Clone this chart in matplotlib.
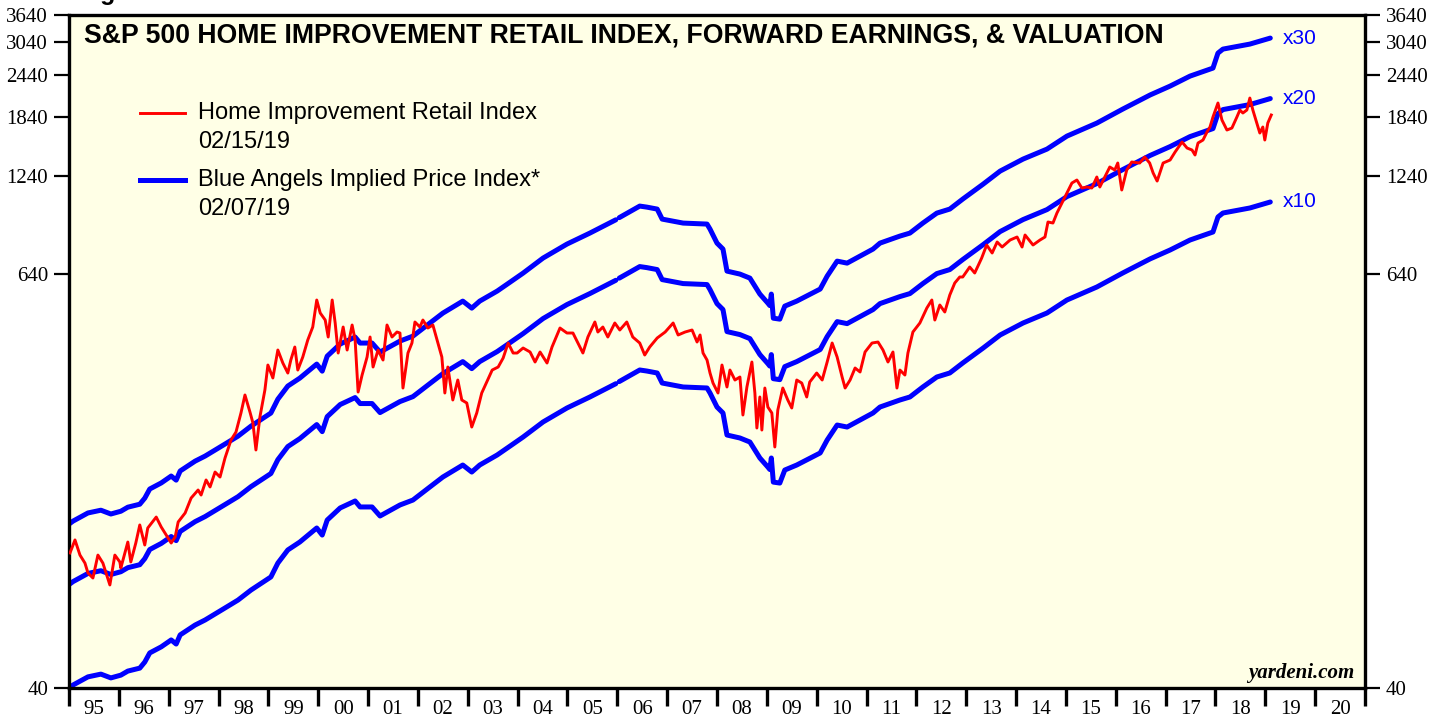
import matplotlib
matplotlib.use('Agg')
import matplotlib.pyplot as plt
import numpy as np
from matplotlib.ticker import FixedLocator, FixedFormatter, NullLocator

# Home Improvement Retail Index (red line)
hi_years = [1995.02, 1995.12, 1995.22, 1995.32, 1995.38, 1995.48, 1995.58, 1995.68, 1995.82, 1995.92,
            1996.02, 1996.04, 1996.18, 1996.24, 1996.34, 1996.42, 1996.52, 1996.58, 1996.75, 1996.85,
            1996.95, 1997.05, 1997.13, 1997.19, 1997.33, 1997.45, 1997.59, 1997.65, 1997.75, 1997.83,
            1997.93, 1998.03, 1998.13, 1998.25, 1998.35, 1998.45, 1998.53, 1998.63, 1998.69, 1998.75,
            1998.83, 1998.93, 1998.99, 1999.09, 1999.19, 1999.29, 1999.39, 1999.45, 1999.53, 1999.59,
            1999.69, 1999.79, 1999.89, 1999.97, 2000.04, 2000.14, 2000.20, 2000.28, 2000.34, 2000.40,
            2000.50, 2000.58, 2000.68, 2000.74, 2000.80, 2000.88, 2000.98, 2001.04, 2001.10, 2001.20,
            2001.30, 2001.38, 2001.48, 2001.58, 2001.64, 2001.70, 2001.80, 2001.88, 2001.94, 2002.04,
            2002.10, 2002.20, 2002.30, 2002.40, 2002.48, 2002.54, 2002.60, 2002.70, 2002.80, 2002.88,
            2002.98, 2003.08, 2003.18, 2003.28, 2003.38, 2003.49, 2003.61, 2003.71, 2003.81, 2003.91,
            2003.99, 2004.11, 2004.25, 2004.35, 2004.45, 2004.59, 2004.69, 2004.85, 2004.99, 2005.11,
            2005.21, 2005.31, 2005.41, 2005.55, 2005.61, 2005.71, 2005.81, 2005.95, 2006.05, 2006.19,
            2006.31, 2006.45, 2006.55, 2006.65, 2006.80, 2006.96, 2007.12, 2007.22, 2007.36, 2007.50,
            2007.60, 2007.66, 2007.72, 2007.80, 2007.86, 2007.92, 2008.02, 2008.10, 2008.20, 2008.26,
            2008.36, 2008.46, 2008.52, 2008.60, 2008.70, 2008.76, 2008.80, 2008.86, 2008.90, 2008.96,
            2009.02, 2009.10, 2009.16, 2009.22, 2009.32, 2009.42, 2009.50, 2009.60, 2009.70, 2009.80,
            2009.86, 2010.00, 2010.11, 2010.21, 2010.31, 2010.41, 2010.51, 2010.57, 2010.67, 2010.77,
            2010.87, 2010.97, 2011.11, 2011.23, 2011.33, 2011.43, 2011.53, 2011.61, 2011.67, 2011.77,
            2011.83, 2011.93, 2012.07, 2012.21, 2012.31, 2012.37, 2012.47, 2012.57, 2012.67, 2012.77,
            2012.87, 2012.93, 2013.07, 2013.17, 2013.31, 2013.41, 2013.52, 2013.62, 2013.72, 2013.88,
            2014.02, 2014.12, 2014.18, 2014.34, 2014.48, 2014.58, 2014.64, 2014.74, 2014.82, 2014.92,
            2015.02, 2015.12, 2015.22, 2015.32, 2015.42, 2015.52, 2015.62, 2015.68, 2015.78, 2015.88,
            2015.98, 2016.04, 2016.12, 2016.22, 2016.32, 2016.48, 2016.58, 2016.68, 2016.75, 2016.83,
            2016.95, 2017.09, 2017.19, 2017.33, 2017.43, 2017.53, 2017.59, 2017.65, 2017.75, 2017.83,
            2017.89, 2017.95, 2018.05, 2018.13, 2018.23, 2018.33, 2018.43, 2018.49, 2018.55, 2018.63,
            2018.69, 2018.75, 2018.83, 2018.89, 2018.95, 2018.99, 2019.05, 2019.12]
hi_index = [98.9, 107.9, 97.5, 92.4, 86.5, 83.6, 97.5, 92.4, 79.8, 97.5,
            93.1, 89.4, 106.4, 93.1, 105.7, 119.3, 104.3, 116.9, 125.8, 117.7,
            111.5, 105.7, 110.1, 121.7, 129.3, 142.9, 150.8, 145.8, 161.3, 153.9,
            170.1, 164.5, 186.9, 210.8, 222.4, 252.7, 285.1, 254.4, 236.3, 197.2,
            246.0, 294.8, 348.5, 319.5, 385.4, 353.2, 330.3, 360.4, 393.2, 337.0,
            367.7, 412.1, 449.6, 538.8, 493.9, 471.2, 420.5, 538.8, 461.9, 377.7,
            449.6, 385.4, 455.7, 412.1, 290.8, 325.9, 367.7, 420.5, 343.9, 385.4,
            360.4, 455.7, 420.5, 434.8, 431.9, 298.7, 377.7, 403.9, 465.0, 449.6,
            471.2, 446.6, 455.7, 403.9, 367.7, 288.9, 343.9, 275.7, 315.2, 275.7,
            270.2, 230.0, 252.7, 288.9, 311.0, 337.0, 343.9, 365.3, 403.9, 377.7,
            377.7, 390.6, 380.3, 355.6, 380.3, 353.2, 393.2, 446.6, 431.9, 431.9,
            403.9, 377.7, 420.5, 465.0, 434.8, 449.6, 420.5, 461.9, 440.7, 465.0,
            420.5, 403.9, 372.7, 393.2, 417.7, 434.8, 461.9, 426.2, 434.8, 440.7,
            406.6, 426.2, 377.7, 360.4, 330.3, 308.9, 288.9, 348.5, 300.8, 337.0,
            315.2, 321.6, 249.3, 300.8, 355.6, 288.9, 228.5, 281.3, 225.4, 298.7,
            263.0, 252.7, 201.2, 257.8, 298.7, 275.7, 261.3, 315.2, 308.9, 281.3,
            311.0, 330.3, 315.2, 355.6, 403.9, 367.7, 321.6, 298.7, 315.2, 341.6,
            332.6, 380.3, 403.9, 406.6, 385.4, 355.6, 380.3, 298.7, 337.0, 325.9,
            377.7, 434.8, 461.9, 510.7, 538.8, 471.2, 521.1, 497.2, 557.2, 603.9,
            628.7, 628.7, 672.2, 645.8, 714.0, 779.1, 738.4, 794.9, 768.7, 805.6,
            822.0, 768.7, 833.1, 779.1, 805.6, 822.0, 908.9, 902.8, 965.4, 1032.4,
            1103.9, 1180.4, 1204.4, 1141.6, 1149.2, 1141.6, 1228.8, 1149.2, 1228.8, 1314.1,
            1287.9, 1349.8, 1126.4, 1287.9, 1358.9, 1349.8, 1405.2, 1349.8, 1262.2, 1196.0,
            1349.8, 1377.2, 1453.0, 1553.7, 1492.5, 1472.6, 1424.1, 1543.4, 1574.7, 1661.4,
            1718.0, 1837.2, 2018.0, 1800.7, 1683.8, 1706.5, 1837.2, 1925.5, 1887.2, 1925.5,
            2086.3, 1925.5, 1764.7, 1650.0, 1718.0, 1574.7, 1764.7, 1862.0]

# forward earnings behind the Blue Angels lines (nan = gap in the published series)
fe_years = [1995.00, 1995.08, 1995.38, 1995.64, 1995.84, 1996.04, 1996.18, 1996.42, 1996.52, 1996.62,
            1996.85, 1997.05, 1997.15, 1997.23, 1997.53, 1997.73, 1998.13, 1998.39, 1998.65, 1999.05,
            1999.19, 1999.39, 1999.63, 1999.97, 2000.08, 2000.18, 2000.44, 2000.74, 2000.84, 2001.08,
            2001.24, 2001.64, 2001.90, 2002.24, 2002.50, 2002.90, 2003.08, 2003.24, 2003.59, 2003.85,
            2004.11, 2004.51, 2004.99, 2005.45, 2005.97, 2006.00, 2006.04, 2006.45, 2006.59, 2006.80,
            2006.90, 2007.32, 2007.80, 2007.86, 2008.00, 2008.12, 2008.20, 2008.46, 2008.66, 2008.86,
            2009.02, 2009.06, 2009.09, 2009.13, 2009.26, 2009.36, 2009.60, 2010.07, 2010.21, 2010.41,
            2010.61, 2011.13, 2011.27, 2011.67, 2011.87, 2012.13, 2012.41, 2012.67, 2012.93, 2013.34,
            2013.68, 2014.14, 2014.62, 2015.02, 2015.62, 2016.14, 2016.69, 2017.09, 2017.49, 2017.95,
            2018.05, 2018.15, 2018.69, 2019.10]
fe_values = [4.00, 4.08, 4.31, 4.39, 4.28, 4.36, 4.48, 4.57, 4.76, 5.06,
             5.27, 5.52, 5.37, 5.71, 6.10, 6.31, 6.84, 7.21, 7.71, 8.42,
             9.24, 10.09, 10.64, 11.69, 11.15, 12.33, 13.37, 14.01, 13.46, 13.46,
             12.67, 13.64, 14.10, 15.39, 16.45, 17.83, 17.01, 17.83, 19.07, 20.25,
             21.51, 23.79, 26.13, 28.13, 30.75, np.nan, 31.20, 33.71, 33.48, 33.04,
             30.89, 30.08, 29.88, 28.89, 26.30, 25.27, 21.80, 21.37, 20.80, 18.69,
             17.59, 17.30, 18.69, 15.90, 15.80, 17.24, 17.83, 19.33, 21.08, 23.31,
             23.00, 25.27, 26.30, 27.57, 28.13, 30.08, 32.16, 33.04, 35.33, 39.06,
             42.62, 46.19, 49.39, 53.88, 58.79, 64.58, 71.00, 75.34, 80.56, 85.00,
             93.99, 96.54, 99.84, 103.94]
multiples = [10, 20, 30]

y_ticks = [40, 640, 1240, 1840, 2440, 3040, 3640]
first_year, last_year = 1995, 2021
year_labels = [f"{y % 100:02d}" for y in range(first_year, last_year)]

serif = 'Liberation Serif'
sans = 'Liberation Sans'

fig = plt.figure(figsize=(14.46, 7.19), dpi=100)
ax = fig.add_axes([69 / 1446, 31 / 719, 1296 / 1446, 673 / 719])
ax.set_facecolor('#ffffe6')

fe = np.array(fe_values)
for m in multiples:
    ax.plot(fe_years, fe * m, color='#0000ff', lw=3.6, solid_capstyle='round',
            solid_joinstyle='round', zorder=2)
    ax.text(2019.35, fe[-1] * m, f'x{m}', color='#0000ff', fontsize=15, family=sans,
            va='center', ha='left')
ax.plot(hi_years, hi_index, color='#ff0000', lw=2.1, zorder=3)

ax.set_yscale('log')
ax.set_ylim(40, 3640)
ax.set_xlim(first_year, last_year)

ax.yaxis.set_major_locator(FixedLocator(y_ticks))
ax.yaxis.set_major_formatter(FixedFormatter([str(v) for v in y_ticks]))
ax.yaxis.set_minor_locator(NullLocator())
ax.tick_params(axis='y', which='major', left=True, right=True, labelleft=True, labelright=True,
               length=11, width=1.6, pad=4, direction='out', labelsize=15)

ax.xaxis.set_major_locator(FixedLocator(range(first_year, last_year + 1)))
ax.xaxis.set_major_formatter(FixedFormatter([''] * (last_year - first_year + 1)))
ax.xaxis.set_minor_locator(FixedLocator([y + 0.5 for y in range(first_year, last_year)]))
ax.xaxis.set_minor_formatter(FixedFormatter(year_labels))
ax.tick_params(axis='x', which='major', length=13, width=2.4, direction='out')
ax.tick_params(axis='x', which='minor', length=0, pad=9, labelsize=15)

for lbl in ax.get_xticklabels(minor=True) + ax.get_yticklabels():
    lbl.set_family(serif)
for sp in ax.spines.values():
    sp.set_linewidth(2.4)

ax.text(0.0116, 0.969, 'S&P 500 HOME IMPROVEMENT RETAIL INDEX, FORWARD EARNINGS, & VALUATION',
        transform=ax.transAxes, fontsize=19.2, fontweight='bold', family=sans, va='center', ha='left')

# legend drawn by hand so the sample line sits beside the first text line
ax.plot([0.0548, 0.0895], [0.854, 0.854], transform=ax.transAxes, color='#ff0000', lw=2.1)
ax.text(0.0995, 0.854, 'Home Improvement Retail Index', transform=ax.transAxes,
        fontsize=17, family=sans, va='center')
ax.text(0.0995, 0.811, '02/15/19', transform=ax.transAxes, fontsize=17, family=sans, va='center')
ax.plot([0.0548, 0.0895], [0.755, 0.755], transform=ax.transAxes, color='#0000ff', lw=3.6)
ax.text(0.0995, 0.755, 'Blue Angels Implied Price Index*', transform=ax.transAxes,
        fontsize=17, family=sans, va='center')
ax.text(0.0995, 0.712, '02/07/19', transform=ax.transAxes, fontsize=17, family=sans, va='center')

ax.text(0.992, 0.022, 'yardeni.com', transform=ax.transAxes, fontsize=15, family=serif,
        fontweight='bold', style='italic', ha='right', va='center')

fig.text(78 / 1446, 1.0, 'Figure 1.', fontsize=18, fontweight='bold', family=sans,
         va='baseline', ha='left')

fig.savefig('out.png', dpi=100)
